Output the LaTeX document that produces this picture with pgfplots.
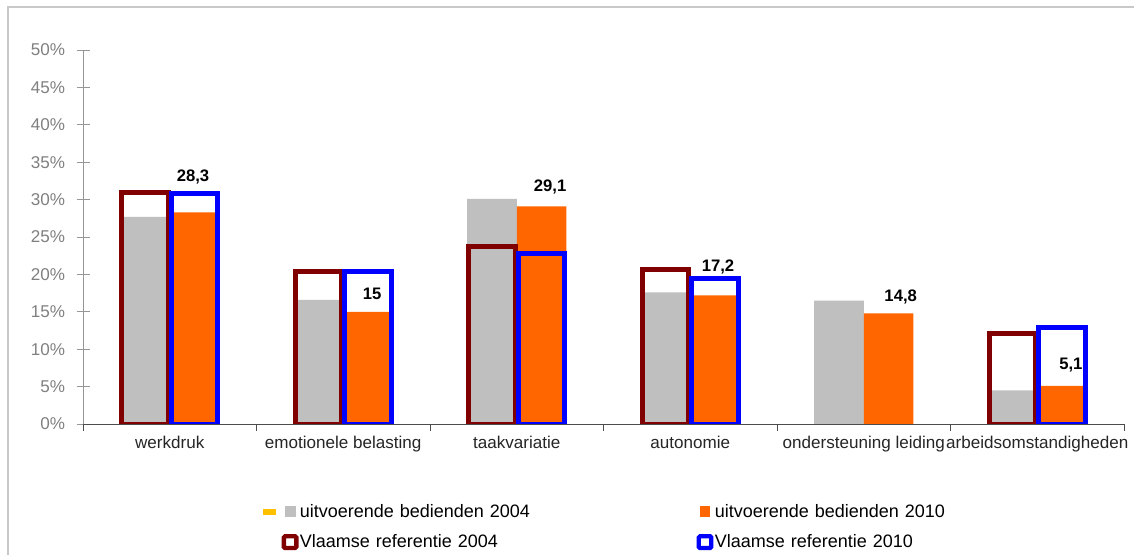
\documentclass[border=0pt]{standalone}
\usepackage{pgfplots}
\pgfplotsset{compat=1.18}
\usepackage{fontspec}
\setmainfont{Liberation Sans}
\definecolor{cgray}{RGB}{191,191,191}
\definecolor{corange}{RGB}{255,102,0}
\definecolor{cdred}{RGB}{128,0,0}
\definecolor{cblue}{RGB}{0,0,255}
\definecolor{axgray}{RGB}{150,150,150}
\definecolor{tickgray}{RGB}{128,128,128}
\definecolor{framegray}{RGB}{200,200,200}
\definecolor{cyel}{RGB}{255,192,0}
\begin{document}
\begin{tikzpicture}
\useasboundingbox (0,0) rectangle (850.5pt,416.25pt);
\fill[white] (0,0) rectangle (850.5pt,416.25pt);
\draw[framegray, line width=1.1pt] (6pt,0) -- (6pt,411pt) -- (850.5pt,411pt);
\begin{axis}[
  at={(62.25pt,98.25pt)}, anchor=south west,
  scale only axis, width=780.75pt, height=280.5pt,
  xmin=-0.5, xmax=5.5, ymin=0, ymax=50,
  axis x line=bottom, axis y line=left,
  axis line style={-},
  x axis line style={draw=black!70},
  y axis line style={draw=axgray},
  xtick={0,1,2,3,4,5},
  xticklabels={werkdruk, emotionele belasting, taakvariatie, autonomie, ondersteuning leiding, arbeidsomstandigheden},
  minor xtick={-0.5,0.5,1.5,2.5,3.5,4.5,5.5},
  x tick style={draw=none},
  minor x tick style={draw=black!70, line width=0.6pt},
  minor tick length=5.25pt,
  tick align=outside,
  ytick={0,5,...,50},
  y tick style={draw=axgray, line width=0.6pt},
  ytick align=center,
  major tick length=9.75pt,
  yticklabel={\pgfmathprintnumber{\tick}\%},
  /pgf/number format/assume math mode=true,
  yticklabel style={font=\fontsize{12.8}{15}\selectfont, text=tickgray, xshift=-5pt},
  xticklabel style={font=\fontsize{12.8}{15}\selectfont, text=black!85, yshift=4pt},
  legend columns=2,
  legend style={at={(131.5pt,-57pt)}, anchor=north west, draw=none, fill=none,
    font=\fontsize{13.5}{16}\selectfont,
    nodes={text width=296.5pt, inner sep=1pt},
    row sep=9.5pt},
  legend cell align=left,
]
\addplot[ybar, bar width=37.2pt, bar shift=-18.6pt, fill=cgray, draw=none,
  legend image code/.code={
    \fill[cyel] (-20.6pt,-2.25pt) rectangle (-10.9pt,2.25pt);
    \fill[cgray] (-4.1pt,-4.1pt) rectangle (4.1pt,4.1pt);}]
  coordinates {(0,27.7) (1,16.6) (2,30.1) (3,17.6) (4,16.5) (5,4.5)};
\addlegendentry{uitvoerende bedienden 2004}
\addplot[ybar, bar width=37.2pt, bar shift=18.6pt, fill=corange, draw=none,
  legend image code/.code={
    \fill[corange] (-4.1pt,-4.1pt) rectangle (4.1pt,4.1pt);}]
  coordinates {(0,28.3) (1,15.0) (2,29.1) (3,17.2) (4,14.8) (5,5.1)};
\addlegendentry{uitvoerende bedienden 2010}
\addplot[ybar, bar width=35pt, bar shift=-18.6pt, fill=none, draw=cdred, line width=3.6pt,
  legend image code/.code={
    \draw[cdred, line width=3.3pt, rounded corners=1pt] (-4.7pt,-4.4pt) rectangle (4.7pt,4.4pt);}]
  coordinates {(0,30.9) (1,20.4) (2,23.7) (3,20.7) (5,12.1)};
\addlegendentry{Vlaamse referentie 2004}
\addplot[ybar, bar width=35pt, bar shift=18.6pt, fill=none, draw=cblue, line width=3.6pt,
  legend image code/.code={
    \draw[cblue, line width=3.3pt, rounded corners=1pt] (-4.7pt,-4.4pt) rectangle (4.7pt,4.4pt);}]
  coordinates {(0,30.8) (1,20.4) (2,22.8) (3,19.4) (5,12.9)};
\addlegendentry{Vlaamse referentie 2010}
\addplot[draw=none, mark=none, forget plot,
  nodes near coords, point meta=explicit symbolic,
  every node near coord/.append style={anchor=center, font=\fontsize{12.5}{15}\selectfont\bfseries, text=black}]
  table[meta=l] {
  x y l
  0.134 33.0 28,3
  1.166 17.4 15
  2.192 31.7 29,1
  3.160 21.0 17,2
  4.213 17.0 14,8
  5.194 7.9 5,1
  };
\end{axis}
\end{tikzpicture}
\end{document}
